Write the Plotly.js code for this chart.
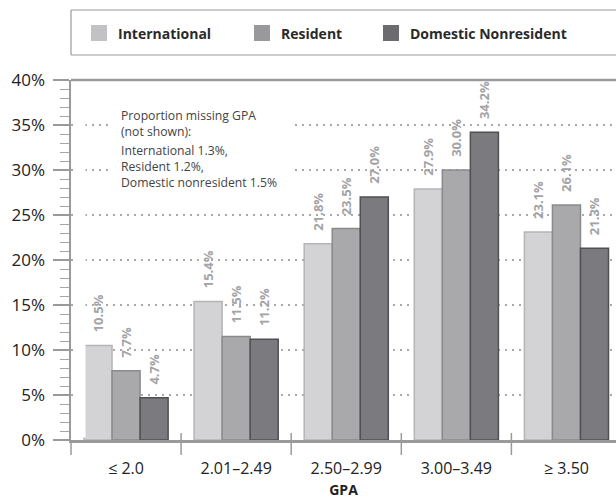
<!DOCTYPE html>
<html>
<head>
<meta charset="utf-8">
<script src="https://cdn.plot.ly/plotly-3.0.1.min.js"></script>
<style>html,body{margin:0;padding:0;background:#fff;overflow:hidden;}#chart{width:616px;height:499px;overflow:hidden;}</style>
</head>
<body>
<div id="chart"></div>
<script>
const categories = ["≤ 2.0", "2.01–2.49", "2.50–2.99", "3.00–3.49", "≥ 3.50"];
const seriesNames = ["International", "Resident", "Domestic Nonresident"];
const international = [10.5, 15.4, 21.8, 27.9, 23.1];
const resident = [7.7, 11.5, 23.5, 30.0, 26.1];
const domesticNonresident = [4.7, 11.2, 27.0, 34.2, 21.3];
const yTicks = [0, 5, 10, 15, 20, 25, 30, 35, 40];
const noteTitle = "Proportion missing GPA<br>(not shown):";
const noteBody = "International 1.3%,<br>Resident 1.2%,<br>Domestic nonresident 1.5%";

const fills = ["#d3d3d5", "#a9a9ac", "#7b7b7f"];
const outlines = ["#b5b5b8", "#8a8a8d", "#505054"];
const legendFills = ["#c2c2c5", "#99999c", "#6c6c70"];
const FONT = "Open Sans, Noto Sans, sans-serif";
const NB = "\u00A0\u00A0\u00A0";
const GRAY = "#9a9a9d";

const values = [international, resident, domesticNonresident];
const traces = values.map((v, i) => ({
  type: "bar",
  name: seriesNames[i],
  x: categories,
  y: v,
  marker: {color: fills[i], line: {color: outlines[i], width: 1.5}},
  texttemplate: NB + "%{y:.1f}%",
  textposition: "outside",
  textangle: -90,
  constraintext: "none",
  textfont: {family: FONT, size: 13, color: "#a3a3a6", weight: "bold"},
  cliponaxis: false,
  hoverinfo: "skip"
}));

const W = 545, H = 360; // plot area px
const px = v => (v - 71) / W;
const py = v => (440 - v) / H;

const shapes = [];
// top frame line
shapes.push({type: "line", xref: "paper", yref: "paper", x0: 0, x1: 1, y0: 1, y1: 1, line: {color: GRAY, width: 2.5}});
// category separators
[0.5, 1.5, 2.5, 3.5].forEach(x => shapes.push({type: "line", xref: "x", yref: "paper", x0: x, x1: x, y0: py(433), y1: py(455), line: {color: GRAY, width: 1.5}}));
shapes.push({type: "line", xref: "paper", yref: "paper", x0: 0, x1: 0, y0: 0, y1: py(455), line: {color: GRAY, width: 1.5}});
// legend box (right side runs to the page edge)
shapes.push({type: "line", xref: "paper", yref: "paper", x0: px(71), x1: 1, y0: py(10), y1: py(10), line: {color: GRAY, width: 1.2}});
shapes.push({type: "line", xref: "paper", yref: "paper", x0: px(71), x1: 1, y0: py(55), y1: py(55), line: {color: GRAY, width: 1.2}});
shapes.push({type: "line", xref: "paper", yref: "paper", x0: px(71), x1: px(71), y0: py(55), y1: py(10), line: {color: GRAY, width: 1.2}});

const annotations = [];
// white covers
annotations.push({xref: "paper", yref: "paper", x: px(73), y: py(82), xanchor: "left", yanchor: "top", showarrow: false, text: "", width: 11, height: 354, bgcolor: "#fff", borderpad: 0});
annotations.push({xref: "paper", yref: "paper", x: px(108), y: py(102), xanchor: "left", yanchor: "top", showarrow: false, text: "", width: 185, height: 88, bgcolor: "#fff", borderpad: 0});
const legendX = [91, 254, 383];
legendX.forEach((lx, i) => {
  shapes.push({type: "rect", xref: "paper", yref: "paper", x0: px(lx), x1: px(lx + 16), y0: py(41), y1: py(25), line: {width: 0}, fillcolor: legendFills[i]});
  annotations.push({xref: "paper", yref: "paper", x: px(lx + 25), y: py(33), xanchor: "left", yanchor: "middle", showarrow: false, text: seriesNames[i], font: {family: FONT, size: 14, color: "#2a2a2a", weight: "bold"}});
});
annotations.push({xref: "paper", yref: "paper", x: px(119), y: py(105), xanchor: "left", yanchor: "top", align: "left", showarrow: false, text: noteTitle, font: {family: FONT, size: 12.2, color: "#444"}});
annotations.push({xref: "paper", yref: "paper", x: px(119), y: py(140), xanchor: "left", yanchor: "top", align: "left", showarrow: false, text: noteBody, font: {family: FONT, size: 12.2, color: "#444"}});

const layout = {
  width: 616, height: 499,
  margin: {l: 71, r: 0, t: 80, b: 59},
  paper_bgcolor: "#fff", plot_bgcolor: "#fff",
  showlegend: false,
  barmode: "group", bargap: 0.236, bargroupgap: 0,
  font: {family: FONT, color: "#222"},
  xaxis: {
    type: "category", range: [-0.5, 4.45],
    showline: true, linecolor: GRAY, linewidth: 2.5,
    ticks: "", ticklabelstandoff: 12,
    tickfont: {family: FONT, size: 16, color: "#222"},
    showgrid: false, zeroline: false,
    title: {text: "GPA", font: {family: FONT, size: 14, color: "#222", weight: "bold"}, standoff: 8}
  },
  yaxis: {
    range: [0, 40], tickvals: yTicks, ticktext: yTicks.map(t => t + "%"),
    showline: true, linecolor: GRAY, linewidth: 2.5,
    ticks: "outside", ticklen: 16, tickwidth: 1.5, tickcolor: GRAY,
    minor: {dtick: 1, ticks: "outside", ticklen: 9, tickwidth: 1, tickcolor: "#a5a5a8", showgrid: false},
    tickfont: {family: FONT, size: 17, color: "#222"},
    showgrid: true, gridcolor: "#a9a9ac", gridwidth: 2, griddash: "2px,5px",
    zeroline: false, ticklabelstandoff: 4
  },
  shapes: shapes,
  annotations: annotations
};

Plotly.newPlot("chart", traces, layout, {displayModeBar: false, staticPlot: true});
</script>
</body>
</html>
